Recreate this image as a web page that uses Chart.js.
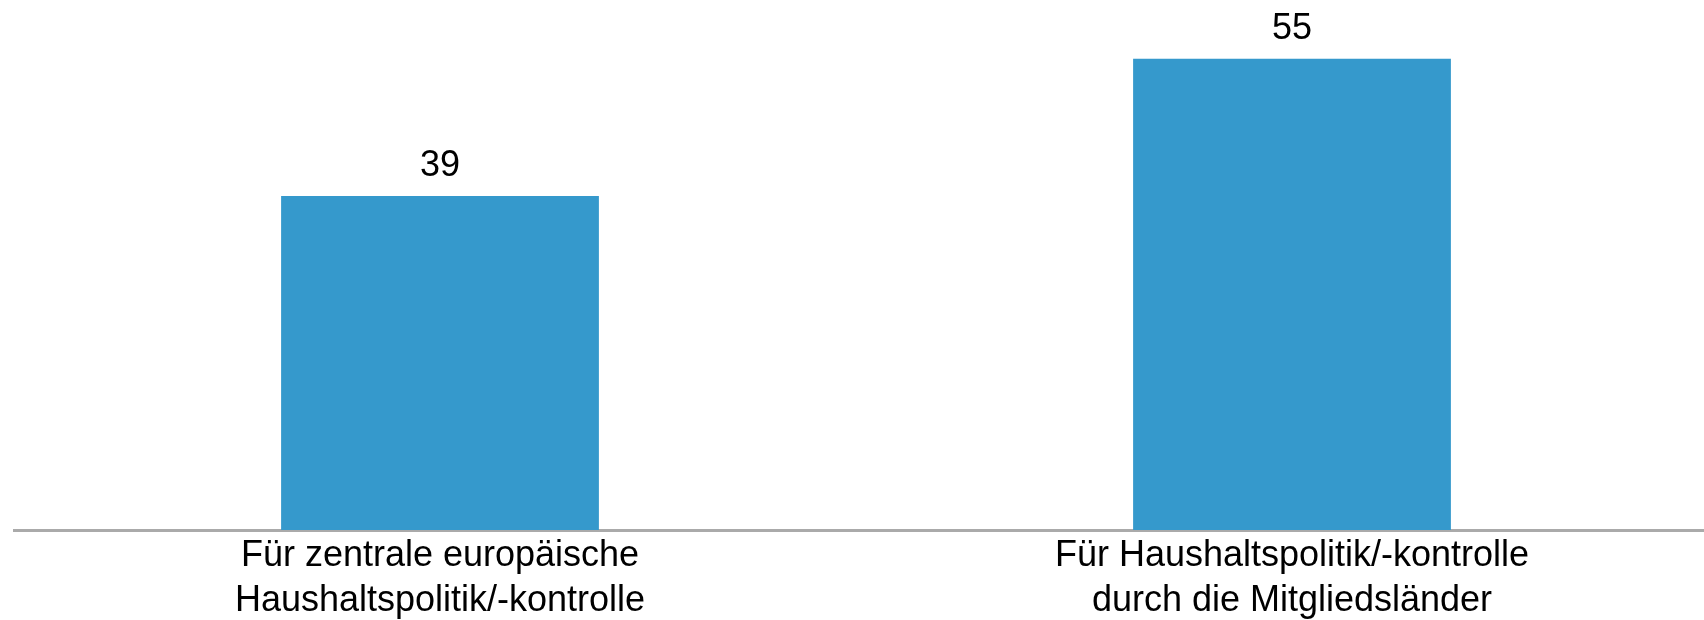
<!DOCTYPE html>
<html>
<head>
<meta charset="utf-8">
<script src="https://cdn.jsdelivr.net/npm/chart.js@4/dist/chart.umd.min.js"></script>
<style>
    html, body { margin: 0; padding: 0; background: #fff; overflow: hidden; }
    #wrap { position: relative; width: 1718px; height: 620px; }
</style>
</head>
<body>
<div id="wrap"><canvas id="barChart"></canvas></div>
<script>
// ===== DATA =====
const categories = [
    ["Für zentrale europäische", "Haushaltspolitik/-kontrolle"],
    ["Für Haushaltspolitik/-kontrolle", "durch die Mitgliedsländer"]
];
const values = [39, 55];

const barColor = "#3599cc";
const fontFamily = "'Liberation Sans', Arial, sans-serif";

// draw value above each bar
const valueLabels = {
    id: "valueLabels",
    afterDatasetsDraw(chart) {
        const ctx = chart.ctx;
        const meta = chart.getDatasetMeta(0);
        ctx.save();
        ctx.font = "36px " + fontFamily;
        ctx.fillStyle = "#000";
        ctx.textAlign = "center";
        ctx.textBaseline = "alphabetic";
        meta.data.forEach((bar, i) => {
            ctx.fillText(String(values[i]), bar.x, bar.y - 20);
        });
        ctx.restore();
    }
};

new Chart(document.getElementById("barChart"), {
    type: "bar",
    data: {
        labels: categories,
        datasets: [{
            data: values,
            backgroundColor: barColor,
            borderWidth: 0,
            categoryPercentage: 1,
            barPercentage: 0.373
        }]
    },
    options: {
        responsive: true,
        maintainAspectRatio: false,
        animation: false,
        layout: { padding: { left: 14, right: 0, top: 16, bottom: 0 } },
        plugins: {
            legend: { display: false },
            tooltip: { enabled: false }
        },
        scales: {
            x: {
                grid: { display: false, drawTicks: false },
                border: { display: true, color: "#aaaaaa", width: 3 },
                ticks: {
                    color: "#000",
                    padding: 4,
                    maxRotation: 0,
                    autoSkip: false,
                    font: { family: fontFamily, size: 36, lineHeight: 1.25 }
                },
                afterFit(scale) { scale.height = 90; }
            },
            y: {
                display: false,
                min: 0,
                max: 60
            }
        }
    },
    plugins: [valueLabels]
});
</script>
</body>
</html>
